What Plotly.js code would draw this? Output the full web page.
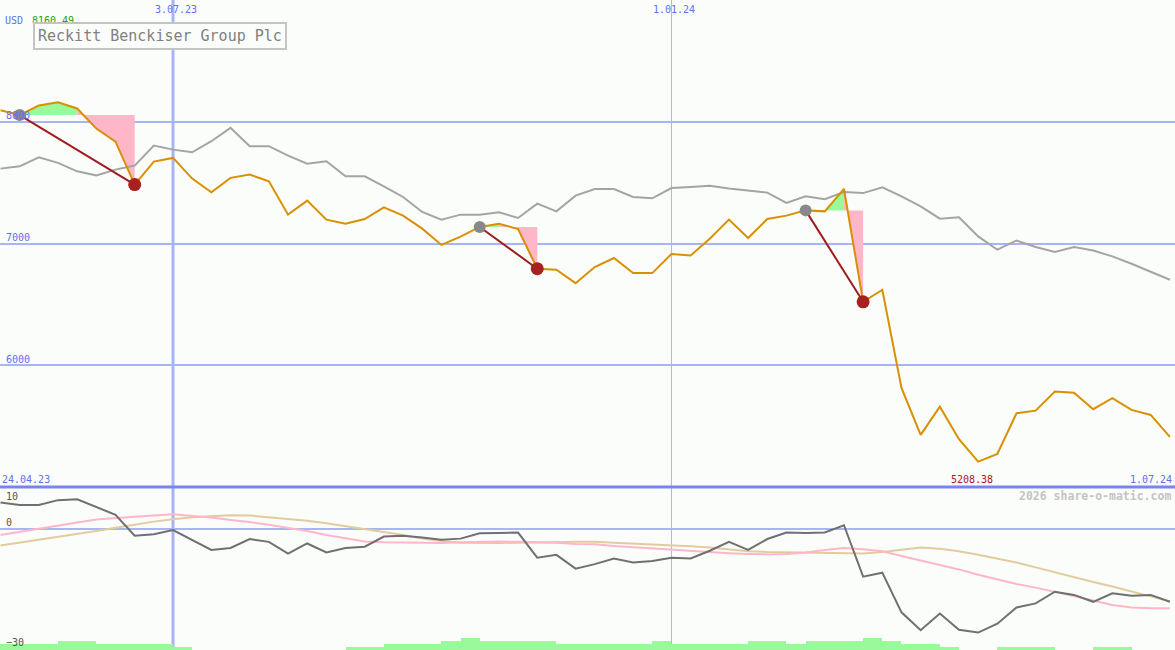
<!DOCTYPE html>
<html><head><meta charset="utf-8">
<script src="https://cdn.plot.ly/plotly-3.0.1.min.js"></script>
<style>html,body{margin:0;padding:0;background:#FBFDFB;}#chart{width:1175px;height:650px;}</style>
</head><body><div id="chart"></div>
<script>
const dates = ['2023-05-01','2023-05-08','2023-05-15','2023-05-22','2023-05-29','2023-06-05','2023-06-12','2023-06-19','2023-06-26','2023-07-03',
'2023-07-10','2023-07-17','2023-07-24','2023-07-31','2023-08-07','2023-08-14','2023-08-21','2023-08-28','2023-09-04','2023-09-11',
'2023-09-18','2023-09-25','2023-10-02','2023-10-09','2023-10-16','2023-10-23','2023-10-30','2023-11-06','2023-11-13','2023-11-20',
'2023-11-27','2023-12-04','2023-12-11','2023-12-18','2023-12-25','2024-01-01','2024-01-08','2024-01-15','2024-01-22','2024-01-29',
'2024-02-05','2024-02-12','2024-02-19','2024-02-26','2024-03-04','2024-03-11','2024-03-18','2024-03-25','2024-04-01','2024-04-08',
'2024-04-15','2024-04-22','2024-04-29','2024-05-06','2024-05-13','2024-05-20','2024-05-27','2024-06-03','2024-06-10','2024-06-17',
'2024-06-24','2024-07-01'];
const price = [8095, 8055, 8133, 8160.49, 8109, 7944, 7837, 7484, 7673, 7703,
 7533, 7420, 7539, 7566, 7511, 7237, 7352, 7196, 7163, 7201,
 7297, 7229, 7122, 6988, 7056, 7136, 7163, 7119, 6793, 6784,
 6674, 6807, 6881, 6757, 6757, 6914, 6902, 7039, 7196, 7045,
 7201, 7229, 7272, 7264, 7448, 6521, 6620, 5814, 5428, 5660,
 5392, 5208.38, 5271, 5606, 5627, 5784, 5775, 5639, 5729, 5633,
 5592, 5411];
const benchmark = [7615, 7634, 7708, 7662, 7593, 7558, 7607, 7640, 7804, 7771,
 7749, 7840, 7950, 7799, 7799, 7722, 7656, 7675, 7552, 7552,
 7470, 7382, 7259, 7196, 7237, 7237, 7256, 7210, 7327, 7264,
 7393, 7448, 7448, 7382, 7371, 7455, 7465, 7475, 7451, 7437,
 7418, 7333, 7387, 7364, 7422, 7414, 7461, 7387, 7305, 7204,
 7215, 7058, 6949, 7025, 6971, 6930, 6971, 6943, 6894, 6834,
 6771, 6702];
const momentum = [6.4, 5.8, 5.8, 7.0, 7.2, 5.2, 3.4, -1.8, -1.4, -0.4,
 -2.9, -5.3, -4.8, -2.6, -3.3, -6.2, -3.7, -5.9, -4.8, -4.5,
 -2.0, -1.8, -2.2, -2.8, -2.5, -1.2, -1.1, -1.0, -7.2, -6.5,
 -9.9, -8.8, -7.4, -8.4, -8.0, -7.2, -7.4, -5.5, -3.3, -5.3,
 -2.6, -1.0, -1.1, -1.0, 0.8, -11.9, -10.9, -20.7, -25.1, -21.0,
 -25.0, -25.7, -23.5, -19.5, -18.5, -15.6, -16.4, -18.1, -16.0, -16.6,
 -16.4, -18.1];
const avgFast = [-1.6, -0.8, 0.0, 0.7, 1.5, 2.2, 2.6, 2.9, 3.2, 3.5,
 3.1, 2.7, 2.1, 1.6, 0.9, 0.2, -0.6, -1.6, -2.4, -3.2,
 -3.4, -3.5, -3.6, -3.6, -3.4, -3.3, -3.2, -3.3, -3.4, -3.5,
 -3.8, -3.9, -4.3, -4.6, -5.0, -5.3, -5.6, -5.9, -6.1, -6.3,
 -6.4, -6.3, -5.9, -5.3, -4.8, -5.1, -5.6, -6.8, -7.9, -9.0,
 -10.1, -11.4, -12.6, -13.7, -14.6, -15.6, -16.7, -17.8, -18.9, -19.5,
 -19.7, -19.7];
const avgSlow = [-4.2, -3.5, -2.8, -2.1, -1.4, -0.6, 0.2, 1.0, 1.7, 2.3,
 2.8, 3.0, 3.3, 3.2, 2.8, 2.4, 1.9, 1.3, 0.6, -0.1,
 -0.9, -1.6, -2.5, -3.1, -3.5, -3.6, -3.6, -3.5, -3.5, -3.4,
 -3.3, -3.3, -3.5, -3.7, -3.9, -4.1, -4.4, -4.7, -5.1, -5.6,
 -5.8, -5.9, -6.0, -6.1, -6.2, -6.2, -5.8, -5.3, -4.7, -5.0,
 -5.6, -6.5, -7.5, -8.4, -9.6, -10.8, -12.1, -13.2, -14.3, -15.5,
 -16.7, -18.0];
const volumeBars = [1.5, 1.5, 1.5, 2.25, 2.25, 1.5, 1.5, 1.5, 1.5, 0.75,
 0, 0, 0, 0, 0, 0, 0, 0, 0.75, 0.75,
 1.5, 1.5, 1.5, 2.25, 3, 2.25, 2.25, 2.25, 2.25, 1.5,
 1.5, 1.5, 1.5, 1.5, 2.25, 1.5, 1.5, 1.5, 1.5, 2.25,
 2.25, 1.5, 2.25, 2.25, 2.25, 3, 2.25, 1.5, 1.5, 0.75,
 0, 0, 0.75, 0.75, 0.75, 0, 0, 0.75, 0.75, 0,
 0, 0];
const buyDates = ['2023-05-08','2023-10-23','2024-02-19'];
const sellDates = ['2023-06-19','2023-11-13','2024-03-11'];
const yTicksMain = [6000, 7000, 8000];
const yTicksLower = [10, 0, -30];
const dateMarks = ['2023-07-03', '2024-01-01'];
const dateMarkLabels = ['3.07.23', '1.01.24'];
const rangeLabels = ['24.04.23', '1.07.24'];
const chartTitle = 'Reckitt Benckiser Group Plc';
const currency = 'USD';
const credit = '2026 share-o-matic.com';

const BG = '#FBFDFB', GRID = '#A8B4F4', BLUE = '#6070F0', MONO = 'DejaVu Sans Mono, Liberation Mono, monospace';
const traces = [];

// gain / loss fills between entry level and price
buyDates.forEach((bd, n) => {
  const s = dates.indexOf(bd), e = dates.indexOf(sellDates[n]);
  const L = price[s];
  let i = s;
  while (i < e) {
    const up = price[i + 1] >= L;
    let j = i + 1;
    while (j < e && (price[j + 1] >= L) === up) j++;
    const xs = [dates[i]], ys = [L];
    for (let k = i; k <= j; k++) { xs.push(dates[k]); ys.push(price[k]); }
    xs.push(dates[j]); ys.push(L);
    traces.push({type: 'scatter', mode: 'lines', x: xs, y: ys, fill: 'toself',
      fillcolor: up ? '#98FA98' : '#FFB6C8', line: {width: 0}, hoverinfo: 'skip', xaxis: 'x', yaxis: 'y'});
    i = j;
  }
});

traces.push({type: 'scatter', mode: 'lines', x: dates, y: benchmark, line: {color: '#A4A4A4', width: 2}, xaxis: 'x', yaxis: 'y'});
traces.push({type: 'scatter', mode: 'lines', x: dates, y: price, line: {color: '#D99000', width: 2}, xaxis: 'x', yaxis: 'y'});

buyDates.forEach((bd, n) => {
  const s = dates.indexOf(bd), e = dates.indexOf(sellDates[n]);
  traces.push({type: 'scatter', mode: 'lines', x: [bd, sellDates[n]], y: [price[s], price[e]],
    line: {color: '#A01C1C', width: 2}, xaxis: 'x', yaxis: 'y'});
});
traces.push({type: 'scatter', mode: 'markers', x: buyDates, y: buyDates.map(d => price[dates.indexOf(d)]),
  marker: {color: '#888888', size: 12}, xaxis: 'x', yaxis: 'y'});
traces.push({type: 'scatter', mode: 'markers', x: sellDates, y: sellDates.map(d => price[dates.indexOf(d)]),
  marker: {color: '#A82020', size: 13}, xaxis: 'x', yaxis: 'y'});

// lower panel
traces.push({type: 'bar', x: dates, y: volumeBars, base: -30, width: 7 * 864e5, offset: 0,
  marker: {color: '#98FA98', line: {width: 0}}, xaxis: 'x', yaxis: 'y2'});
traces.push({type: 'scatter', mode: 'lines', x: dates, y: avgSlow, line: {color: '#E2CC9E', width: 2}, xaxis: 'x', yaxis: 'y2'});
traces.push({type: 'scatter', mode: 'lines', x: dates, y: avgFast, line: {color: '#FFB6C8', width: 2}, xaxis: 'x', yaxis: 'y2'});
traces.push({type: 'scatter', mode: 'lines', x: dates, y: momentum, line: {color: '#707070', width: 2}, xaxis: 'x', yaxis: 'y2'});

const maxI = price.indexOf(Math.max(...price));
const minI = price.indexOf(Math.min(...price));

const ann = [];
const small = (c) => ({family: MONO, size: 10, color: c});
dateMarkLabels.forEach((t, i) => ann.push({text: t, x: dateMarks[i], xref: 'x', y: 1 - 9.5 / 650, yref: 'paper',
  xanchor: 'center', yanchor: 'middle', xshift: 3, showarrow: false, font: small(BLUE)}));
ann.push({text: rangeLabels[0], x: 0, xref: 'paper', y: yTicksMain[0] - 1000, yref: 'y', xanchor: 'left', yanchor: 'middle', yshift: 8, showarrow: false, font: small(BLUE)});
ann.push({text: rangeLabels[1], x: 1, xref: 'paper', y: yTicksMain[0] - 1000, yref: 'y', xanchor: 'right', yanchor: 'middle', yshift: 8, xshift: -1, showarrow: false, font: small(BLUE)});
ann.push({text: price[minI].toFixed(2), x: dates[minI], xref: 'x', y: yTicksMain[0] - 1000, yref: 'y', xanchor: 'center', yanchor: 'middle', yshift: 8, xshift: -6, showarrow: false, font: small('#A02020')});
ann.push({text: currency, x: 0, xref: 'paper', y: 1 - 20.5 / 650, yref: 'paper', xanchor: 'left', yanchor: 'middle', xshift: 3, showarrow: false, font: small(BLUE)});
ann.push({text: price[maxI].toFixed(2), x: 0, xref: 'paper', y: 1 - 20.5 / 650, yref: 'paper', xanchor: 'left', yanchor: 'middle', xshift: 30, showarrow: false, font: small('#20A020')});
yTicksMain.forEach(v => ann.push({text: String(v), x: 0, xref: 'paper', y: v, yref: 'y', xanchor: 'left', yanchor: 'middle', xshift: 4, yshift: 6, showarrow: false, font: small(BLUE)}));
const lowShift = {'10': -8, '0': 6, '-30': 8};
yTicksLower.forEach(v => ann.push({text: String(v).replace('-', '\u2212'), x: 0, xref: 'paper', y: v, yref: 'y2', xanchor: 'left', yanchor: 'middle', xshift: 4, yshift: lowShift[String(v)], showarrow: false, font: small('#555555')}));
ann.push({text: credit, x: 1, xref: 'paper', y: 10, yref: 'y2', xanchor: 'right', yanchor: 'middle', xshift: -2, yshift: -8, showarrow: false,
  font: {family: MONO, size: 11.5, color: '#C4C4C4', weight: 'bold'}});
ann.push({text: chartTitle, x: 160.3 / 1175, xref: 'paper', y: 1 - 36.3 / 650, yref: 'paper', xanchor: 'center', yanchor: 'middle', showarrow: false,
  font: {family: MONO, size: 15, color: '#808080'}, bordercolor: '#C4C4C4', borderwidth: 2, borderpad: 3, bgcolor: BG});

const shapes = dateMarks.map((d, i) => ({type: 'line', xref: 'x', yref: 'paper', x0: d, x1: d, y0: 0, y1: 1,
  line: {color: GRID, width: i === 0 ? 3 : 1}, layer: 'below'}));
shapes.push({type: 'line', xref: 'paper', yref: 'paper', x0: 0, x1: 1, y0: 163 / 650, y1: 163 / 650, line: {color: '#7886EC', width: 3}, layer: 'above'});

const layout = {
  width: 1175, height: 650, margin: {l: 0, r: 0, t: 0, b: 0, pad: 0},
  paper_bgcolor: BG, plot_bgcolor: BG, showlegend: false, hovermode: false,
  xaxis: {type: 'date', range: ['2023-04-30 19:40', '2024-07-02 21:00'], anchor: 'y2', showgrid: false, zeroline: false,
    showticklabels: false, ticks: '', showline: false, fixedrange: true},
  yaxis: {domain: [163 / 650, 1], range: [5000, 9000], tickvals: yTicksMain, showticklabels: false, ticks: '',
    gridcolor: GRID, gridwidth: 2, zeroline: false, showline: false, fixedrange: true},
  yaxis2: {domain: [0, 162 / 650], range: [-30, 10], tickvals: [0], showticklabels: false, ticks: '',
    gridcolor: GRID, gridwidth: 2, zeroline: false, showline: false, fixedrange: true},
  bargap: 0,
  annotations: ann, shapes: shapes
};
Plotly.newPlot('chart', traces, layout, {staticPlot: true, displayModeBar: false});
</script></body></html>
